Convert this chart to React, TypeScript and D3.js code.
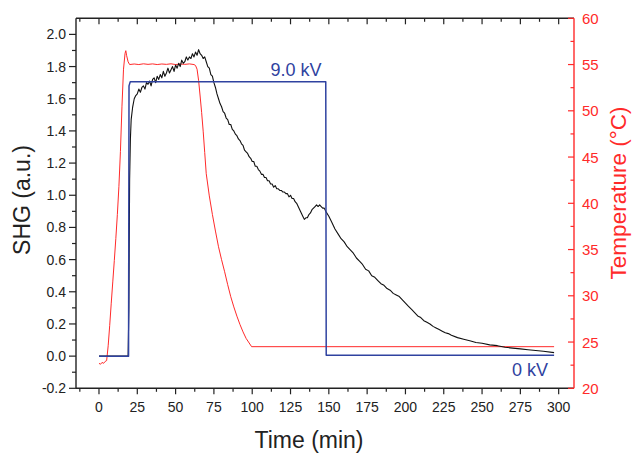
import React from "react";
import * as d3 from "d3";

const timeTicks = [0, 25, 50, 75, 100, 125, 150, 175, 200, 225, 250, 275, 300];
const shgTicks = [-0.2, 0.0, 0.2, 0.4, 0.6, 0.8, 1.0, 1.2, 1.4, 1.6, 1.8, 2.0];
const tempTicks = [20, 25, 30, 35, 40, 45, 50, 55, 60];

// Applied voltage trace (drawn on SHG axis): [time, value]
const voltPoints: [number, number][] = [
  [0, 0.0], [19.3, 0.0], [19.6, 1.68], [20.4, 1.705], [148.0, 1.705], [148.3, 0.005], [297, 0.005],
];

// SHG signal: [time, value]
const shgPoints: [number, number][] = [
  [0, 0.0], [19, 0.0], [19.5, 0.3], [20, 1.1], [20.5, 1.35], [21, 1.47],
  [22, 1.55], [23, 1.6], [24, 1.62], [25, 1.63], [26, 1.66], [27, 1.64], [28, 1.67], [29, 1.68], [30, 1.66],
  [31, 1.7], [32, 1.69], [33, 1.71], [34, 1.68], [35, 1.72], [36, 1.73], [37, 1.7], [38, 1.74], [39, 1.72],
  [40, 1.75], [41, 1.73], [42, 1.77], [43, 1.74], [44, 1.76], [45, 1.79], [46, 1.76], [47, 1.78], [48, 1.8],
  [49, 1.77], [50, 1.81], [51, 1.79], [52, 1.82], [53, 1.8], [54, 1.84], [55, 1.82], [56, 1.83], [57, 1.86],
  [58, 1.84], [59, 1.86], [60, 1.85], [61, 1.88], [62, 1.86], [63, 1.89], [64, 1.87], [65, 1.905], [66, 1.88],
  [67, 1.87], [68, 1.85], [69, 1.86], [70, 1.83], [71, 1.8], [72, 1.79], [73, 1.75], [74, 1.74], [75, 1.7],
  [76, 1.67], [77, 1.63], [78, 1.6], [79, 1.57], [80, 1.55], [81, 1.52], [82, 1.51], [83, 1.48], [84, 1.47],
  [85, 1.44], [86, 1.44], [87, 1.41], [88, 1.4], [89, 1.38], [90, 1.37], [91, 1.35], [92, 1.34], [93, 1.32],
  [94, 1.31], [95, 1.28], [96, 1.27], [97, 1.26], [98, 1.24], [99, 1.23], [100, 1.21], [101, 1.21], [102, 1.18],
  [103, 1.18], [104, 1.16], [105, 1.15], [106, 1.13], [107, 1.13], [108, 1.11], [109, 1.11], [110, 1.09],
  [111, 1.09], [112, 1.07], [113, 1.07], [114, 1.05], [115, 1.06], [116, 1.04], [117, 1.04], [118, 1.03],
  [119, 1.03], [120, 1.02], [121, 1.02], [122, 1.01], [123, 1.01], [124, 0.99], [125, 1.0], [126, 0.98],
  [127, 0.98], [128, 0.96], [129, 0.95], [130, 0.93], [131, 0.91], [132, 0.89], [133, 0.87], [134, 0.85],
  [135, 0.86], [136, 0.86], [137, 0.88], [138, 0.89], [139, 0.91], [140, 0.92], [141, 0.93], [142, 0.94],
  [143, 0.93], [144, 0.94], [145, 0.93], [146, 0.92], [147, 0.92], [148, 0.9], [150, 0.87], [152, 0.83],
  [154, 0.79], [156, 0.76], [158, 0.73], [160, 0.71], [162, 0.68], [164, 0.66], [166, 0.64], [168, 0.61],
  [170, 0.59], [172, 0.57], [174, 0.54], [176, 0.53], [178, 0.5], [180, 0.49], [182, 0.47], [184, 0.45],
  [186, 0.44], [188, 0.42], [190, 0.41], [192, 0.39], [194, 0.38], [196, 0.37], [198, 0.35], [200, 0.33],
  [202, 0.31], [204, 0.29], [206, 0.27], [208, 0.25], [210, 0.24], [212, 0.22], [214, 0.21], [216, 0.2],
  [218, 0.185], [220, 0.175], [222, 0.165], [224, 0.155], [226, 0.145], [228, 0.14], [230, 0.13], [234, 0.115],
  [238, 0.105], [242, 0.095], [246, 0.085], [250, 0.08], [255, 0.07], [260, 0.065], [265, 0.055], [270, 0.05],
  [275, 0.045], [280, 0.04], [285, 0.035], [290, 0.03], [297, 0.022],
];

// Temperature: [time, °C]
const tempPoints: [number, number][] = [
  [0, 22.7], [1, 22.6], [2, 22.8], [3, 22.7], [4, 22.9], [5, 23.0], [6, 24.6], [7, 26.8], [8, 29.2], [9, 31.5],
  [10, 33.8], [11, 36.2], [12, 38.8], [13, 41.8], [14, 45.6], [15, 50.5], [16, 54.5], [17, 56.2], [17.5, 56.5],
  [18, 56.0], [19, 55.3], [20, 55.0], [23, 55.06], [26, 55.0], [29, 55.08], [32, 55.02], [35, 55.07], [38, 55.0],
  [41, 55.06], [44, 55.02], [47, 55.08], [50, 55.0], [53, 55.06], [56, 55.02], [59, 55.07], [62, 55.0],
  [63, 54.9], [64, 54.5], [65, 53.3], [66, 51.6], [67, 49.8], [68, 47.8], [69, 45.5], [70, 43.2], [72, 40.8],
  [74, 38.8], [76, 37.0], [78, 35.3], [80, 33.9], [82, 32.6], [84, 31.2], [86, 29.9], [88, 28.8], [90, 27.8],
  [92, 26.9], [94, 26.1], [96, 25.4], [98, 24.9], [99.6, 24.5], [297, 24.5],
];

const W = 638;
const H = 454;
const L = 76, R = 574, T = 18.3, B = 388.3;
const FONT = "'Liberation Sans', Arial, sans-serif";
const RED = "#ff2a2a";
const BLUE = "#2f42a0";

export default function App() {
  const x = d3.scaleLinear().domain([-15, 310]).range([L, R]);
  const yL = d3.scaleLinear().domain([-0.2, 2.1]).range([B, T]);
  const yR = d3.scaleLinear().domain([20, 60]).range([B, T]);

  const mk = (pts: [number, number][], ys: d3.ScaleLinear<number, number>) =>
    d3.line<[number, number]>().x((d) => x(d[0])).y((d) => ys(d[1]))(pts) || "";

  const shgPath = mk(shgPoints, yL);
  const voltPath = mk(voltPoints, yL);
  const tempPath = mk(tempPoints, yR);

  const xMinor = d3.range(-12.5, 310, 12.5).filter((v) => !timeTicks.includes(v));
  const yMinor = d3.range(-0.1, 2.1, 0.2).map((v) => Math.round(v * 10) / 10);
  const rMinor = d3.range(22.5, 60, 5);

  return (
    <svg width={W} height={H} style={{ position: "absolute", left: 0, top: 0, background: "#fff" }} fontFamily={FONT}>
      <defs>
        <clipPath id="plot">
          <rect x={L} y={T} width={R - L} height={B - T} />
        </clipPath>
      </defs>
      <g clipPath="url(#plot)" fill="none" strokeLinejoin="round">
        <path d={tempPath} stroke={RED} strokeWidth={1} />
        <path d={shgPath} stroke="#111" strokeWidth={1.1} />
        <path d={voltPath} stroke={BLUE} strokeWidth={1.5} />
      </g>

      {/* frame */}
      <line x1={L} x2={R} y1={B} y2={B} stroke="#222" strokeWidth={1.4} />
      <line x1={L} x2={R} y1={T} y2={T} stroke="#222" strokeWidth={1.4} />
      <line x1={L} x2={L} y1={T} y2={B} stroke="#222" strokeWidth={1.4} />
      <line x1={R} x2={R} y1={T} y2={B} stroke={RED} strokeWidth={1.4} />

      {/* bottom & top ticks */}
      {timeTicks.map((t) => (
        <g key={"xt" + t}>
          <line x1={x(t)} x2={x(t)} y1={B} y2={B + 6} stroke="#222" strokeWidth={1.2} />
          <line x1={x(t)} x2={x(t)} y1={T} y2={T + 6} stroke="#222" strokeWidth={1.2} />
          <text x={x(t)} y={B + 24} textAnchor="middle" fontSize={14} fill="#222">{t}</text>
        </g>
      ))}
      {xMinor.map((t) => (
        <g key={"xm" + t}>
          <line x1={x(t)} x2={x(t)} y1={B} y2={B + 3.5} stroke="#222" strokeWidth={1.2} />
          <line x1={x(t)} x2={x(t)} y1={T} y2={T + 3.5} stroke="#222" strokeWidth={1.2} />
        </g>
      ))}

      {/* left ticks */}
      {shgTicks.map((v) => (
        <g key={"yl" + v}>
          <line x1={L - 7} x2={L} y1={yL(v)} y2={yL(v)} stroke="#222" strokeWidth={1.2} />
          <text x={L - 10} y={yL(v) + 5} textAnchor="end" fontSize={14} fill="#222">{v.toFixed(1)}</text>
        </g>
      ))}
      {yMinor.map((v) => (
        <line key={"ylm" + v} x1={L - 4} x2={L} y1={yL(v)} y2={yL(v)} stroke="#222" strokeWidth={1.2} />
      ))}

      {/* right ticks */}
      {tempTicks.map((v) => (
        <g key={"yr" + v}>
          <line x1={R - 6} x2={R} y1={yR(v)} y2={yR(v)} stroke={RED} strokeWidth={1.2} />
          <text x={R + 8} y={yR(v) + 5.5} textAnchor="start" fontSize={15} fill={RED}>{v}</text>
        </g>
      ))}
      {rMinor.map((v) => (
        <line key={"yrm" + v} x1={R - 3.5} x2={R} y1={yR(v)} y2={yR(v)} stroke={RED} strokeWidth={1.2} />
      ))}

      {/* titles */}
      <text x={309} y={448} textAnchor="middle" fontSize={23} fill="#222">Time (min)</text>
      <text transform={`translate(30,200) rotate(-90)`} textAnchor="middle" fontSize={23} fill="#222">SHG (a.u.)</text>
      <text transform={`translate(626,193) rotate(-90)`} textAnchor="middle" fontSize={22.5} fill={RED}>Temperature (°C)</text>

      {/* annotations */}
      <text x={296} y={76} textAnchor="middle" fontSize={18} fill={BLUE}>9.0 kV</text>
      <text x={530} y={376} textAnchor="middle" fontSize={18} fill={BLUE}>0 kV</text>
    </svg>
  );
}
